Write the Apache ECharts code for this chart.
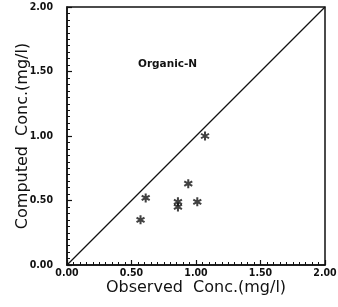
<!DOCTYPE html>
<html>
<head>
<meta charset="utf-8">
<script src="https://cdn.jsdelivr.net/npm/echarts@6/dist/echarts.min.js"></script>
<style>
  html, body { margin: 0; padding: 0; background: #fff; }
  #chart { width: 338px; height: 307px; }
</style>
</head>
<body>
<div id="chart"></div>
<script>
// observed vs computed organic-N (mg/l)
const observed = [1.07, 0.94, 0.61, 0.86, 0.86, 1.01, 0.57];
const computed = [1.00, 0.63, 0.52, 0.49, 0.45, 0.49, 0.35];
const lineX = [0, 2];
const lineY = [0, 2];

// six-armed asterisk as a path symbol
function asterisk() {
  const L = 10, w = 2.2;
  let d = '';
  [90, 30, -30].forEach(a => {
    const r = a * Math.PI / 180;
    const cx = Math.cos(r), cy = Math.sin(r);
    const px = -cy, py = cx;
    const pts = [
      [cx * L + px * w, cy * L + py * w],
      [-cx * L + px * w, -cy * L + py * w],
      [-cx * L - px * w, -cy * L - py * w],
      [cx * L - px * w, cy * L - py * w]
    ];
    d += 'M' + pts.map(p => (p[0] + 12).toFixed(2) + ' ' + (p[1] + 12).toFixed(2)).join('L') + 'Z';
  });
  return 'path://' + d;
}

const font = 'DejaVu Sans';
const labelFont = 'DejaVu Sans Condensed';
const chart = echarts.init(document.getElementById('chart'));

function valueAxis(name, extra) {
  return Object.assign({
    type: 'value',
    min: 0,
    max: 2,
    interval: 0.5,
    name: name,
    nameLocation: 'middle',
    nameMoveOverlap: false,
    nameTextStyle: { fontFamily: font, fontSize: 16, color: '#111' },
    axisLine: { show: true, lineStyle: { color: '#111', width: 1.5 } },
    axisTick: { show: true, inside: true, length: 5, lineStyle: { color: '#111', width: 1.2 } },
    minorTick: { show: true, splitNumber: 10, length: 3, lineStyle: { color: '#111', width: 1 } },
    splitLine: { show: false }
  }, extra);
}

chart.setOption({
  animation: false,
  backgroundColor: '#fff',
  grid: {
    left: 67, right: 13, top: 7, bottom: 42,
    outerBoundsMode: 'none',
    containLabel: false,
    show: true, borderColor: '#111', borderWidth: 1.5
  },
  xAxis: valueAxis('Observed  Conc.(mg/l)', {
    nameGap: 15,
    axisLabel: {
      fontFamily: labelFont, fontSize: 10.5, fontWeight: 'bold', color: '#111',
      margin: 3, formatter: v => v.toFixed(2)
    }
  }),
  yAxis: valueAxis('Computed  Conc.(mg/l)', {
    nameGap: 36,
    axisLabel: {
      fontFamily: labelFont, fontSize: 10.5, fontWeight: 'bold', color: '#111',
      margin: 14, formatter: v => v.toFixed(2)
    }
  }),
  graphic: [{
    type: 'text',
    left: 138,
    top: 59,
    style: { text: 'Organic-N', font: 'bold 10.5px DejaVu Sans', fill: '#111' }
  }],
  series: [
    {
      type: 'line',
      data: lineX.map((x, i) => [x, lineY[i]]),
      symbol: 'none',
      lineStyle: { color: '#111', width: 1.3 }
    },
    {
      type: 'scatter',
      data: observed.map((x, i) => [x, computed[i]]),
      symbol: asterisk(),
      symbolSize: 9,
      itemStyle: { color: '#111' }
    }
  ]
});
</script>
</body>
</html>
